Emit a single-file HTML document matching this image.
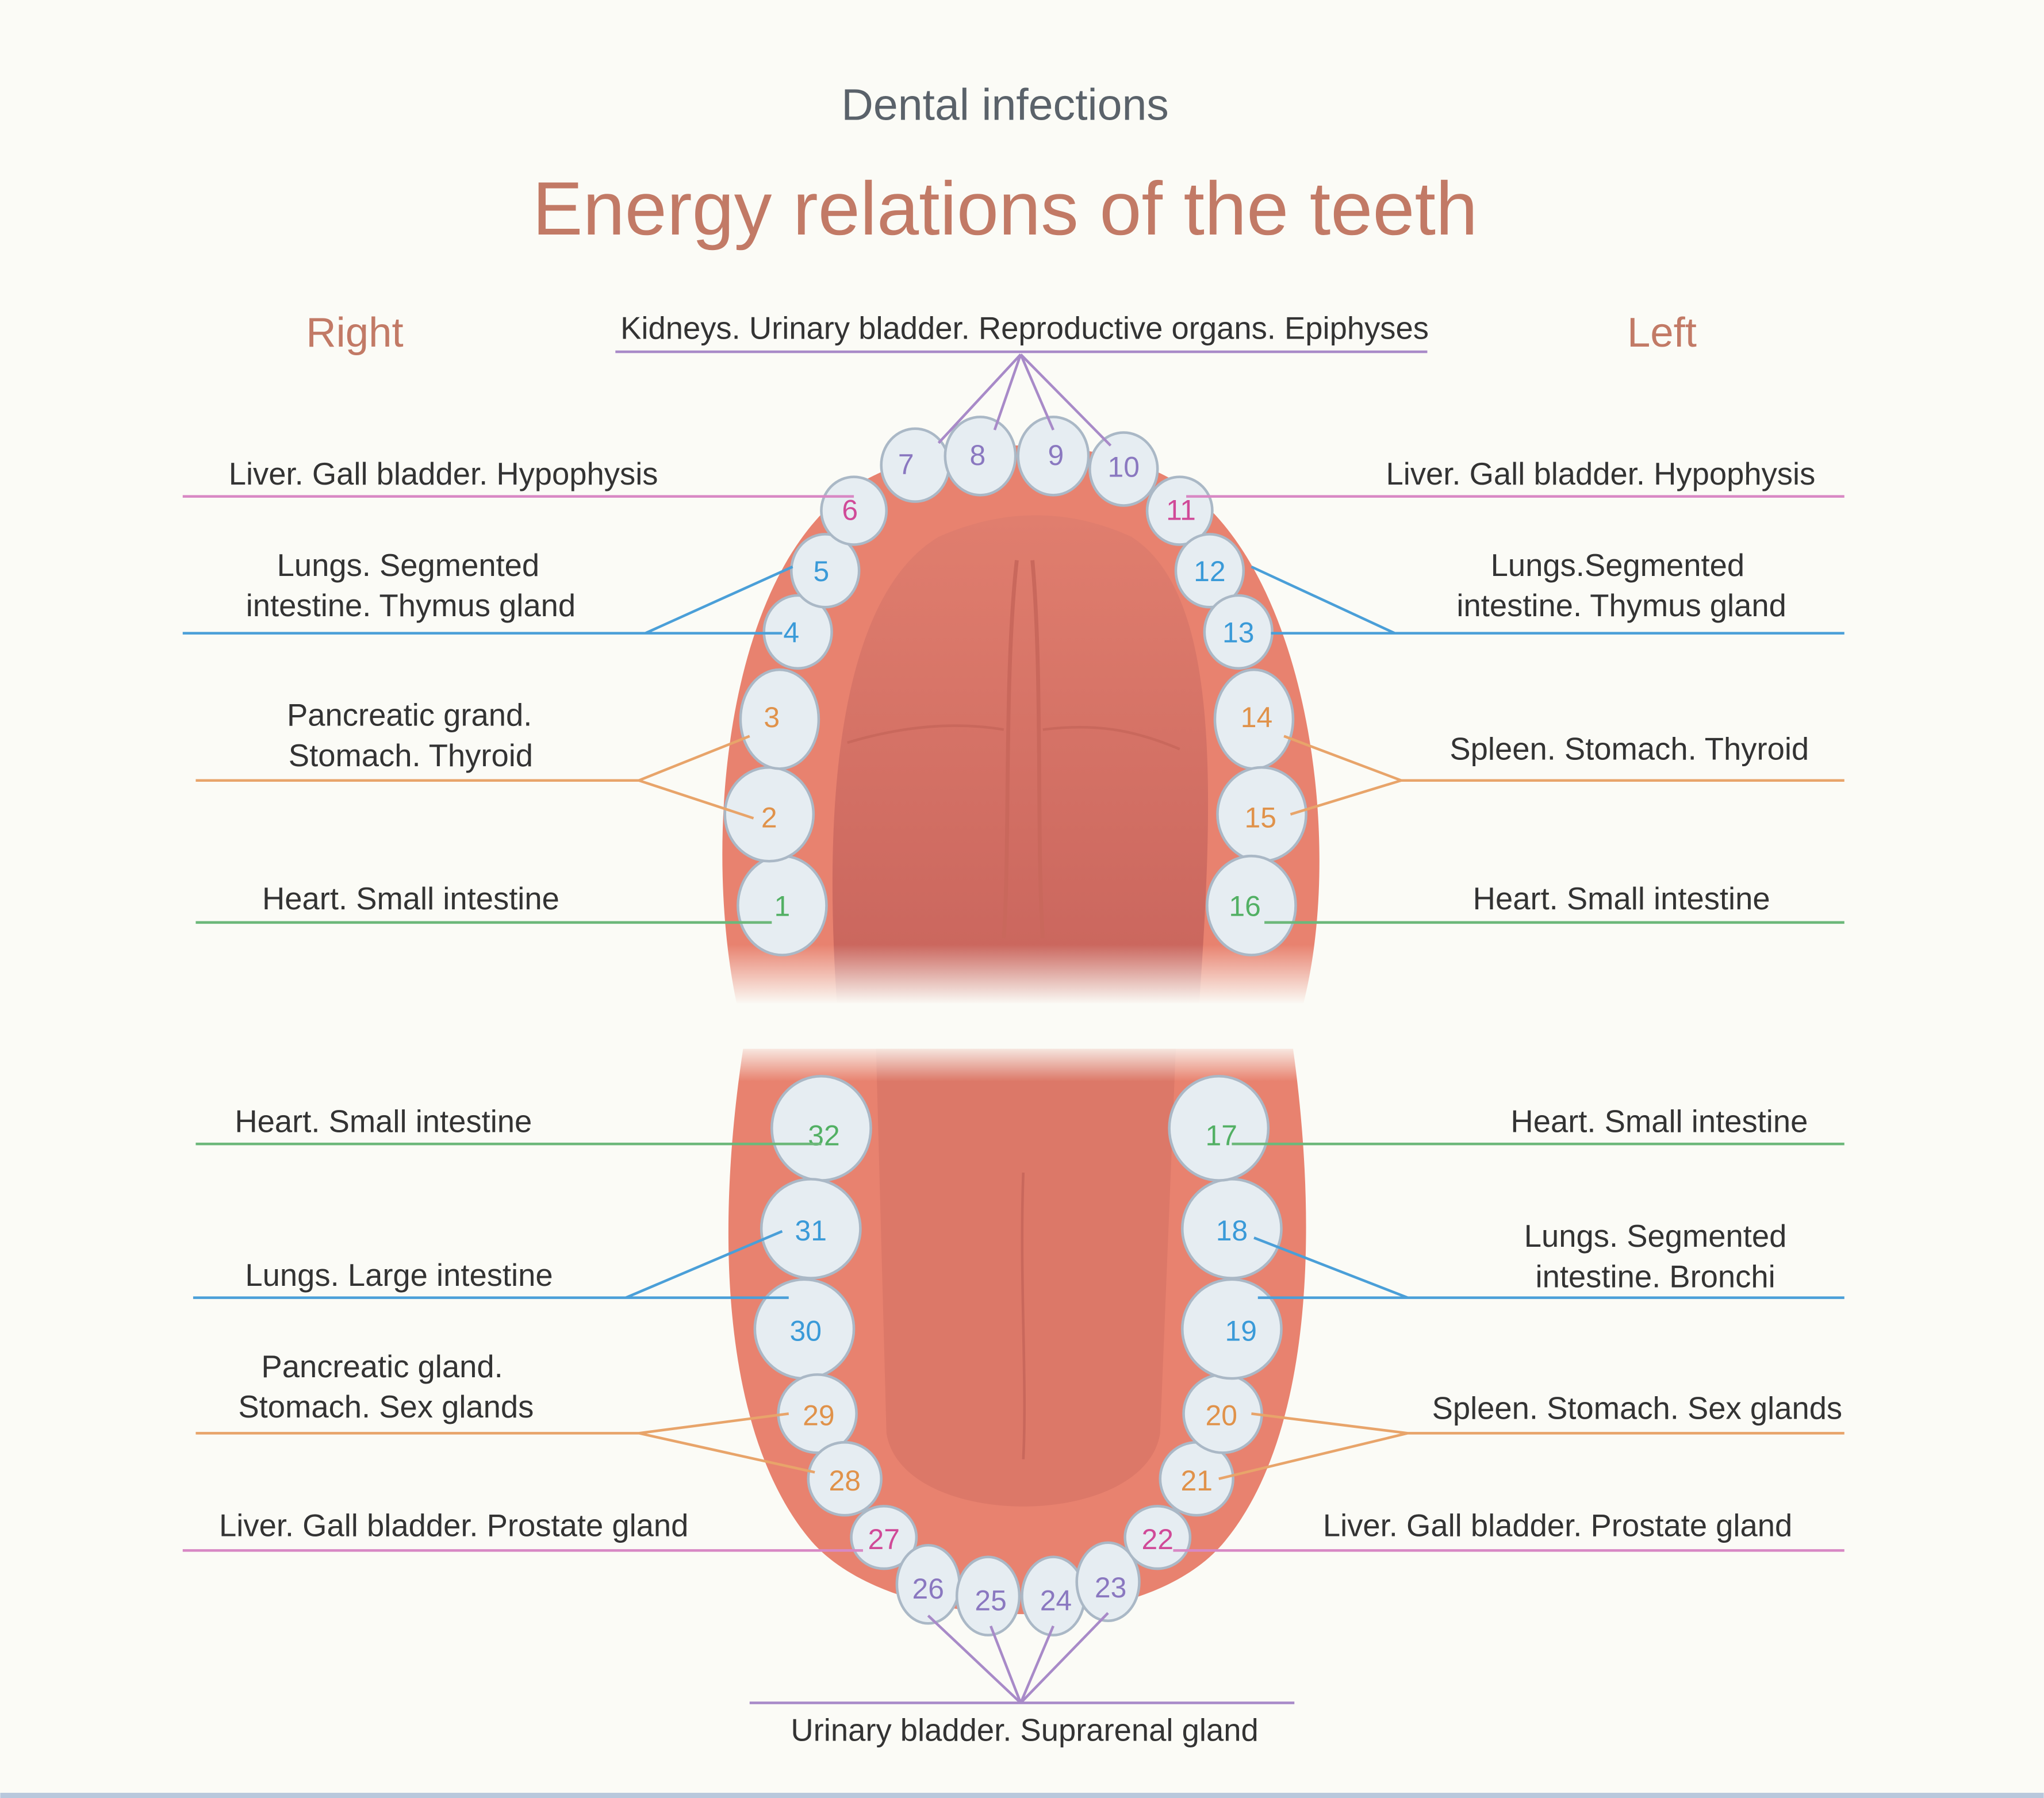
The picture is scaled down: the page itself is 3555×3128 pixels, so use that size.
<!DOCTYPE html>
<html><head><meta charset="utf-8"><style>
html,body{margin:0;padding:0;background:#fbfbf6;}
svg{display:block;}
text{font-family:"Liberation Sans",sans-serif;}
</style></head><body>
<svg width="3555" height="3128" viewBox="0 0 1568 1380" xmlns="http://www.w3.org/2000/svg">
<defs>
<linearGradient id="fu" x1="0" y1="0" x2="0" y2="1"><stop offset="0" stop-color="#fbfbf6" stop-opacity="0"/><stop offset="1" stop-color="#fbfbf6" stop-opacity="1"/></linearGradient>
<linearGradient id="fl" x1="0" y1="0" x2="0" y2="1"><stop offset="0" stop-color="#fbfbf6" stop-opacity="1"/><stop offset="1" stop-color="#fbfbf6" stop-opacity="0"/></linearGradient>
<linearGradient id="pal" x1="0" y1="0" x2="0" y2="1"><stop offset="0" stop-color="#e07e6e"/><stop offset="1" stop-color="#c8645c"/></linearGradient>
</defs>
<rect width="1568" height="1380" fill="#fbfbf6"/>
<rect x="0" y="1376" width="1568" height="4" fill="#b8c8dc"/>
<text x="771" y="92" font-size="34" fill="#5a626a" text-anchor="middle">Dental infections</text>
<text x="771" y="180" font-size="58" fill="#c27a66" text-anchor="middle">Energy relations of the teeth</text>
<text x="272" y="266" font-size="32" fill="#c27a66" text-anchor="middle">Right</text>
<text x="1275" y="266" font-size="32" fill="#c27a66" text-anchor="middle">Left</text>

<!-- upper jaw -->
<path d="M565 770 C540 650 555 460 640 385 C700 330 860 325 922 385 C1005 460 1030 650 1000 770 Z" fill="#e8826f"/>
<path d="M642 770 C630 600 648 455 720 412 C770 390 820 390 868 412 C935 455 932 600 920 770 Z" fill="url(#pal)"/>
<path d="M780 430 C770 520 775 650 770 720" stroke="#c9685c" stroke-width="3" fill="none"/>
<path d="M792 430 C800 520 795 650 800 720" stroke="#c9685c" stroke-width="3" fill="none"/>
<path d="M650 570 C700 555 740 555 770 560 M800 560 C840 555 870 560 905 575" stroke="#c9685c" stroke-width="2" fill="none"/>
<rect x="540" y="725" width="490" height="46" fill="url(#fu)"/>
<!-- lower jaw -->
<path d="M570 805 C548 950 555 1100 620 1180 C680 1255 880 1262 942 1180 C1005 1100 1012 950 992 805 Z" fill="#e8826f"/>
<path d="M672 805 L680 1100 C692 1175 878 1175 890 1100 L902 805 Z" fill="#dc7868"/>
<path d="M785 900 C782 980 788 1060 785 1120" stroke="#c9685c" stroke-width="2" fill="none"/>
<rect x="540" y="800" width="490" height="30" fill="url(#fl)"/>

<g fill="#e6edf2" stroke="#aab8c6" stroke-width="2">
<ellipse cx="600" cy="695" rx="34" ry="38"/><ellipse cx="590" cy="625" rx="34" ry="36"/><ellipse cx="598" cy="552" rx="30" ry="38"/>
<ellipse cx="612" cy="485" rx="26" ry="28"/><ellipse cx="633" cy="438" rx="26" ry="28"/><ellipse cx="655" cy="392" rx="25" ry="26"/>
<ellipse cx="702" cy="357" rx="26" ry="28"/><ellipse cx="752" cy="350" rx="27" ry="30"/><ellipse cx="808" cy="350" rx="27" ry="30"/>
<ellipse cx="862" cy="360" rx="26" ry="28"/><ellipse cx="905" cy="392" rx="25" ry="26"/><ellipse cx="928" cy="438" rx="26" ry="28"/>
<ellipse cx="950" cy="485" rx="26" ry="28"/><ellipse cx="962" cy="552" rx="30" ry="38"/><ellipse cx="968" cy="625" rx="34" ry="36"/>
<ellipse cx="960" cy="695" rx="34" ry="38"/>
<ellipse cx="630" cy="866" rx="38" ry="40"/><ellipse cx="622" cy="943" rx="38" ry="38"/><ellipse cx="617" cy="1020" rx="38" ry="38"/>
<ellipse cx="627" cy="1085" rx="30" ry="30"/><ellipse cx="648" cy="1135" rx="28" ry="28"/><ellipse cx="678" cy="1180" rx="25" ry="24"/>
<ellipse cx="712" cy="1216" rx="24" ry="30"/><ellipse cx="758" cy="1225" rx="24" ry="30"/><ellipse cx="808" cy="1225" rx="24" ry="30"/>
<ellipse cx="850" cy="1214" rx="24" ry="30"/><ellipse cx="888" cy="1180" rx="25" ry="24"/><ellipse cx="918" cy="1135" rx="28" ry="28"/>
<ellipse cx="938" cy="1085" rx="30" ry="30"/><ellipse cx="945" cy="1020" rx="38" ry="38"/><ellipse cx="945" cy="943" rx="38" ry="38"/>
<ellipse cx="935" cy="866" rx="38" ry="40"/>
</g>

<g font-size="22" text-anchor="middle">
<g fill="#8a78c0"><text x="695" y="364">7</text><text x="750" y="357">8</text><text x="810" y="357">9</text><text x="862" y="366">10</text>
<text x="712" y="1227">26</text><text x="760" y="1236">25</text><text x="810" y="1236">24</text><text x="852" y="1226">23</text></g>
<g fill="#d04a98"><text x="652" y="399">6</text><text x="906" y="399">11</text><text x="678" y="1189">27</text><text x="888" y="1189">22</text></g>
<g fill="#3a9ad8"><text x="630" y="446">5</text><text x="607" y="493">4</text><text x="928" y="446">12</text><text x="950" y="493">13</text>
<text x="622" y="952">31</text><text x="618" y="1029">30</text><text x="945" y="952">18</text><text x="952" y="1029">19</text></g>
<g fill="#e0924a"><text x="592" y="558">3</text><text x="590" y="635">2</text><text x="964" y="558">14</text><text x="967" y="635">15</text>
<text x="628" y="1094">29</text><text x="648" y="1144">28</text><text x="937" y="1094">20</text><text x="918" y="1144">21</text></g>
<g fill="#52b064"><text x="600" y="703">1</text><text x="955" y="703">16</text><text x="632" y="879">32</text><text x="937" y="879">17</text></g>
</g>

<g stroke-width="2" fill="none">
<g stroke="#a88ac8"><path d="M472 270 H1095 M783 272 L720 340 M783 272 L763 330 M783 272 L808 330 M783 272 L852 342"/>
<path d="M575 1307 H993 M783 1307 L712 1240 M783 1307 L760 1248 M783 1307 L808 1248 M783 1307 L850 1238"/></g>
<g stroke="#d888c4"><path d="M140 381 H655 M910 381 H1415 M140 1190 H662 M900 1190 H1415"/></g>
<g stroke="#4a9fd8"><path d="M140 486 H495 L608 435 M495 486 H600 M1070 486 H1415 M1070 486 L960 435 M1070 486 H975"/>
<path d="M148 996 H480 L600 945 M480 996 H605 M1080 996 H1415 M1080 996 L962 950 M1080 996 H965"/></g>
<g stroke="#e8a46a"><path d="M150 599 H490 L575 565 M490 599 L578 628 M1075 599 H1415 M1075 599 L985 565 M1075 599 L990 625"/>
<path d="M150 1100 H490 L605 1085 M490 1100 L625 1130 M1080 1100 H1415 M1080 1100 L960 1085 M1080 1100 L935 1135"/></g>
<g stroke="#6cb87a"><path d="M150 708 H592 M970 708 H1415 M150 878 H630 M945 878 H1415"/></g>
</g>

<g font-size="24" fill="#333" text-anchor="middle">
<text x="786" y="260">Kidneys. Urinary bladder. Reproductive organs. Epiphyses</text>
<text x="340" y="372">Liver. Gall bladder. Hypophysis</text>
<text x="1228" y="372">Liver. Gall bladder. Hypophysis</text>
<text x="313" y="442">Lungs. Segmented</text><text x="315" y="473">intestine. Thymus gland</text>
<text x="1241" y="442">Lungs.Segmented</text><text x="1244" y="473">intestine. Thymus gland</text>
<text x="314" y="557">Pancreatic grand.</text><text x="315" y="588">Stomach. Thyroid</text>
<text x="1250" y="583">Spleen. Stomach. Thyroid</text>
<text x="315" y="698">Heart. Small intestine</text><text x="1244" y="698">Heart. Small intestine</text>
<text x="294" y="869">Heart. Small intestine</text><text x="1273" y="869">Heart. Small intestine</text>
<text x="306" y="987">Lungs. Large intestine</text>
<text x="1270" y="957">Lungs. Segmented</text><text x="1270" y="988">intestine. Bronchi</text>
<text x="293" y="1057">Pancreatic gland.</text><text x="296" y="1088">Stomach. Sex glands</text>
<text x="1256" y="1089">Spleen. Stomach. Sex glands</text>
<text x="348" y="1179">Liver. Gall bladder. Prostate gland</text>
<text x="1195" y="1179">Liver. Gall bladder. Prostate gland</text>
<text x="786" y="1336">Urinary bladder. Suprarenal gland</text>
</g>
</svg>
</body></html>
